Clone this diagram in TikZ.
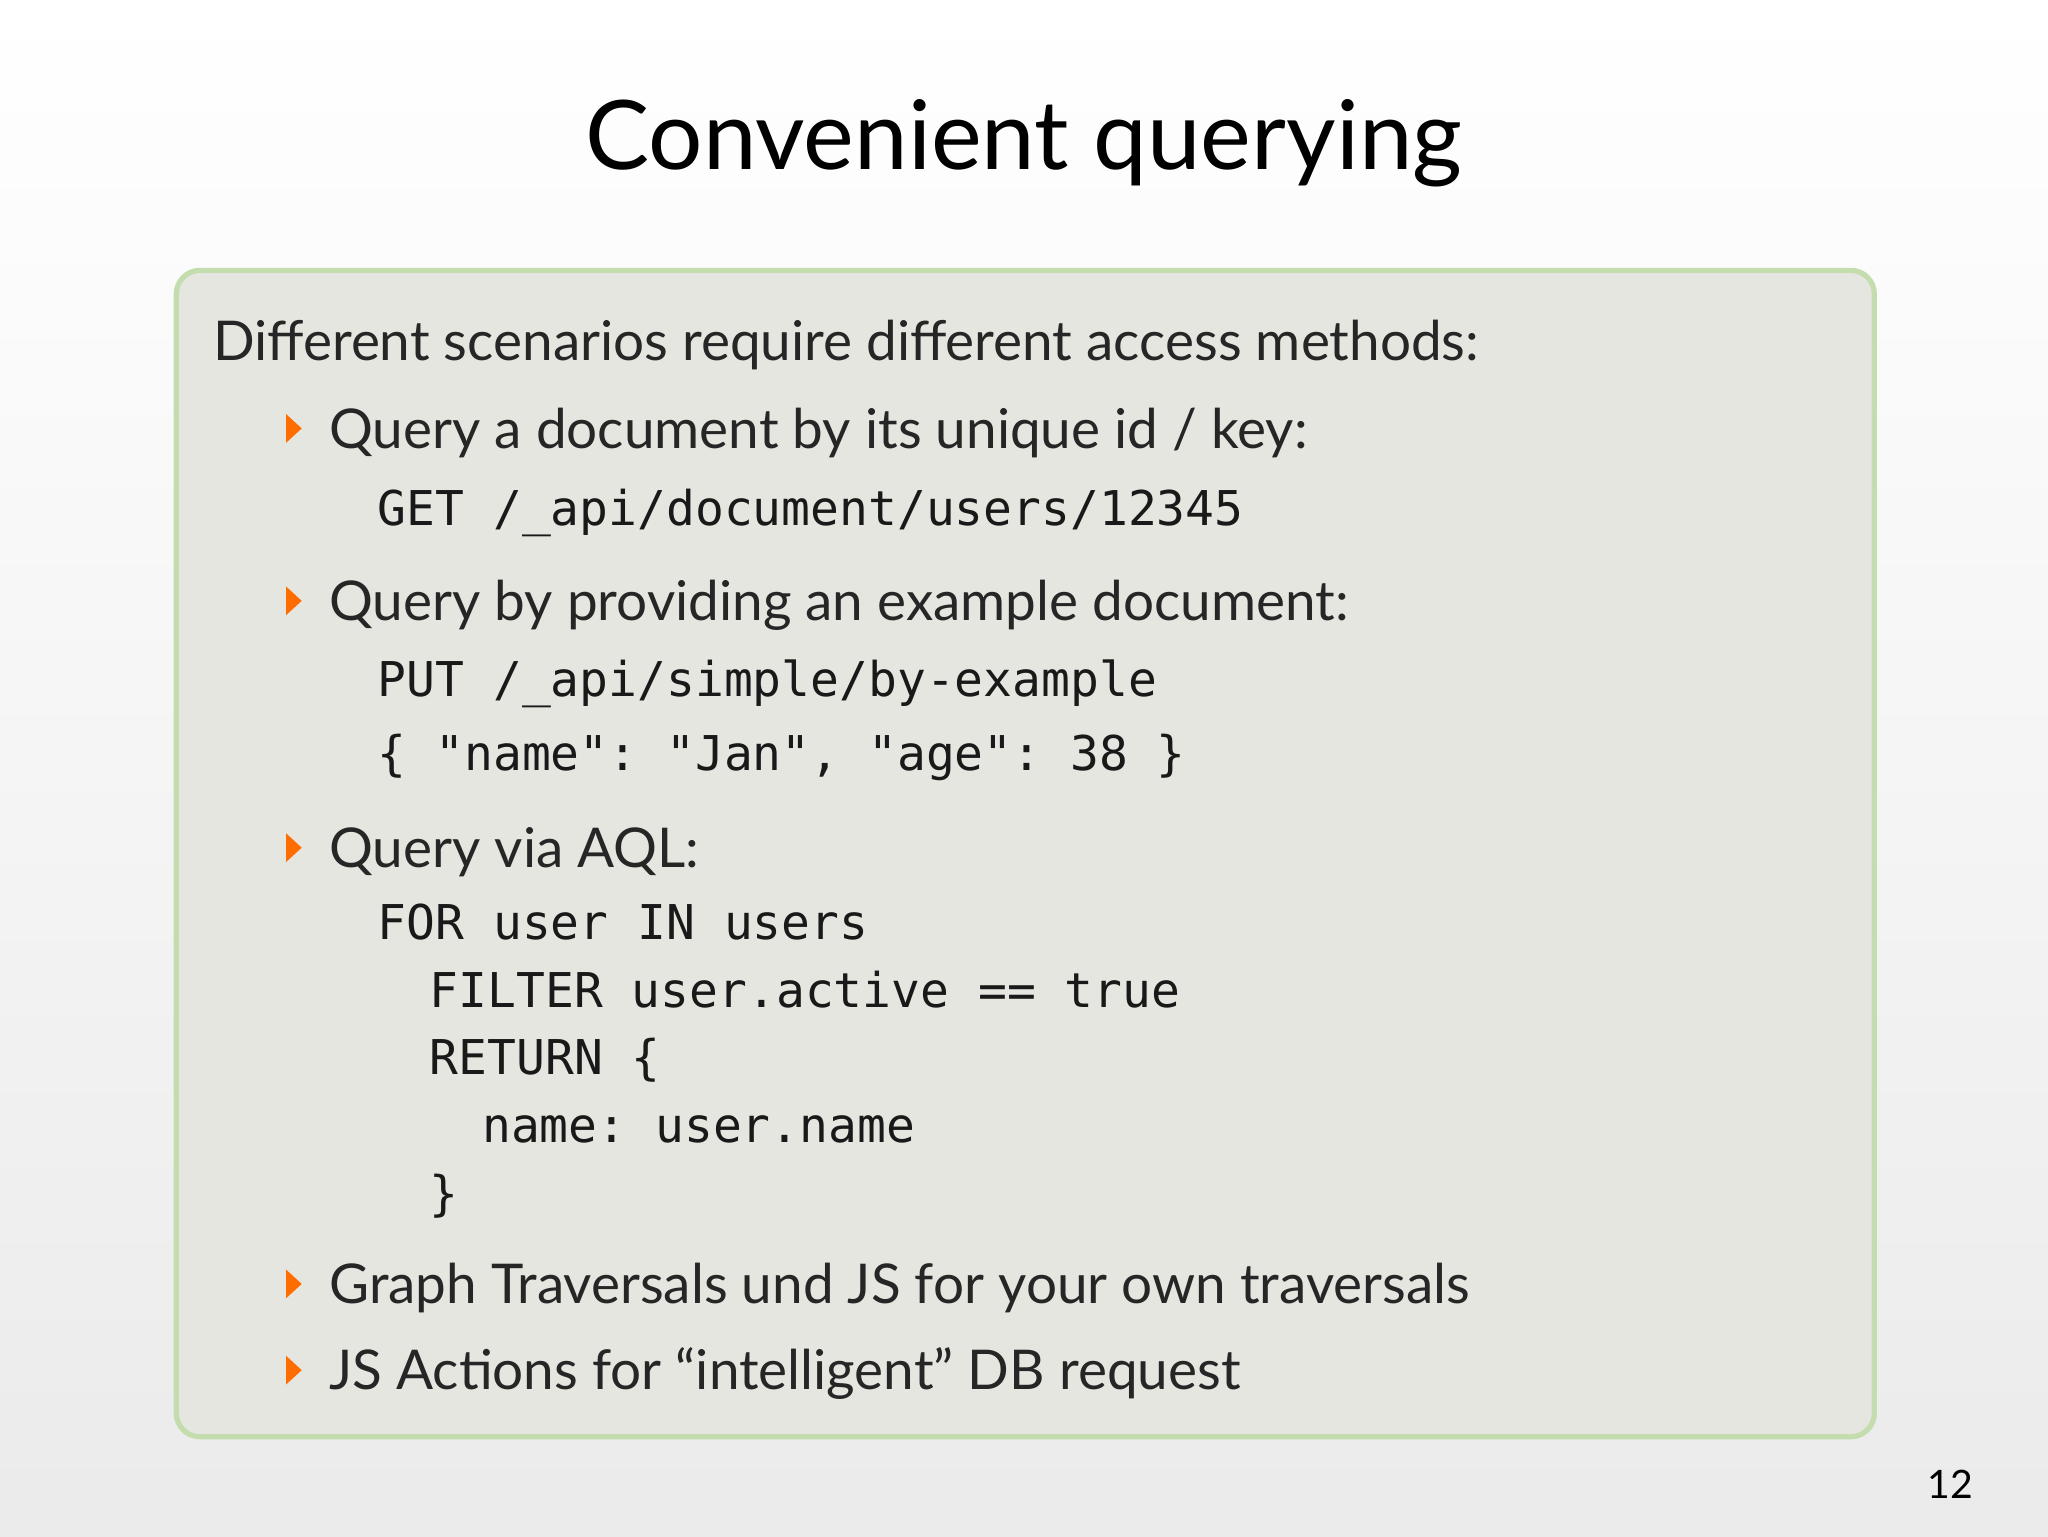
\documentclass[tikz,border=0pt]{standalone}
\usepackage{fontspec}
\setmainfont{Lato}
\setmonofont{DejaVu Sans Mono}
\definecolor{boxfill}{HTML}{E5E6E0}
\definecolor{boxline}{HTML}{C3DDAE}
\begin{document}
\begin{tikzpicture}[x=1pt,y=-1pt,
  body/.style={anchor=base west,inner sep=0pt,font=\fontsize{42}{50}\selectfont,text=black!85},
  code/.style={anchor=base west,inner sep=0pt,font=\ttfamily\fontsize{36.7}{42}\selectfont,text=black!90},
  bul/.style={fill=orange!85!red,draw=none}]
\shade[top color=white,bottom color=black!8] (0,0) rectangle (1568,1176);
\useasboundingbox (0,0) rectangle (1568,1176);
\node[anchor=base,inner sep=0pt,font=\fontsize{73.5}{90}\selectfont] (title) at (784,130) {Convenient querying};
\draw[draw=boxline,line width=4pt,fill=boxfill,rounded corners=18pt] (135,207) rectangle (1435,1100);
\node[body] (t0) at (163,276) {Different scenarios require different access methods:};
\foreach \y/\n in {343/b1,475/b2,664/b3,998/b4,1064/b5}
  \fill[bul] (219,{\y-26}) -- (231,{\y-15}) -- (219,{\y-4}) -- cycle;
\node[body] (t1) at (252,343) {Query a document by its unique id / key:};
\node[code] (c1) at (289,402) {GET /\_api/document/users/12345};
\node[body] (t2) at (252,475) {Query by providing an example document:};
\node[code] (c2) at (289,533) {PUT /\_api/simple/by-example};
\node[code] (c3) at (289,590) {\{ "name": "Jan", "age": 38 \}};
\node[body] (t3) at (252,664) {Query via AQL:};
\node[code] (c4) at (289,719) {FOR user IN users};
\node[code] (c5) at (329,771) {FILTER user.active == true};
\node[code] (c6) at (329,823) {RETURN \{};
\node[code] (c7) at (369,875) {name: user.name};
\node[code] (c8) at (329,927) {\}};
\node[body] (t4) at (252,998) {Graph Traversals und JS for your own traversals};
\node[body] (t5) at (252,1064) {JS Actions for “intelligent” DB request};
\node[anchor=base east,inner sep=0pt,font=\fontsize{30}{34}\selectfont] (pg) at (1511,1147) {12};
\end{tikzpicture}
\end{document}
